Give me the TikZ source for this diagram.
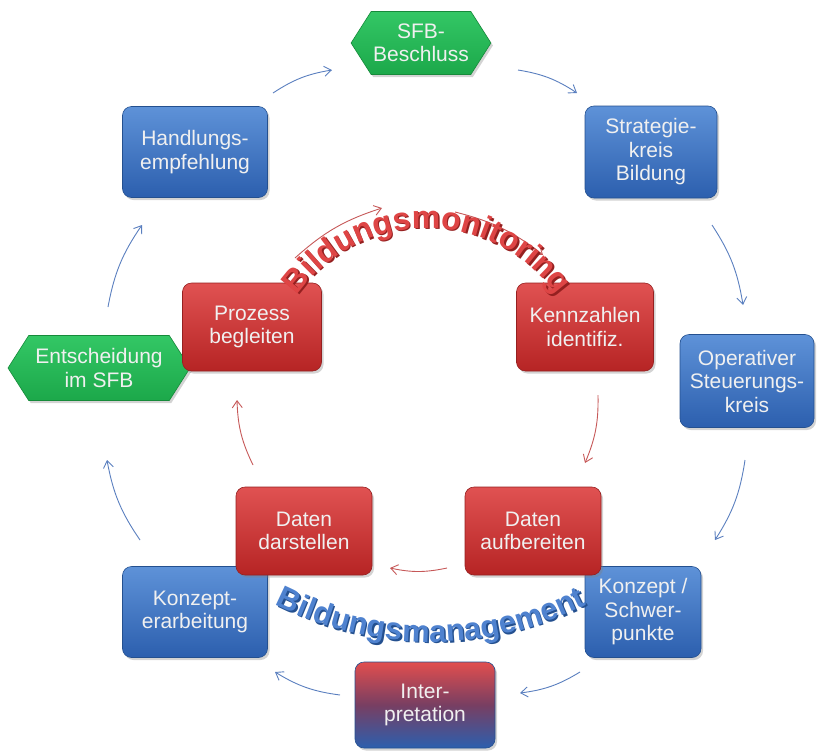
\documentclass[tikz,border=0pt]{standalone}
\usepackage{fontspec}
\setmainfont{Liberation Sans}
\usetikzlibrary{shapes.symbols,shadows,arrows.meta,decorations.text,calc}
\definecolor{blueT}{HTML}{5E92D8}
\definecolor{blueB}{HTML}{2C5FAE}
\definecolor{blueD}{HTML}{24508F}
\definecolor{redT}{HTML}{E05252}
\definecolor{redB}{HTML}{B62424}
\definecolor{redD}{HTML}{952020}
\definecolor{greenT}{HTML}{33C765}
\definecolor{greenB}{HTML}{1CA84A}
\definecolor{greenD}{HTML}{168A3A}
\definecolor{arrowblue}{HTML}{5A7FBF}
\definecolor{arrowred}{HTML}{C65858}
\definecolor{txt}{HTML}{F0F0F0}
\definecolor{monred}{HTML}{DE4545}
\definecolor{mangblue}{HTML}{4F82CF}
\tikzset{
  box/.style={rounded corners=9pt, align=center, text=txt, inner sep=2pt,
    font=\fontsize{21}{23.5}\selectfont,
    drop shadow={opacity=0.35, shadow xshift=2pt, shadow yshift=-2.5pt}},
  bluebox/.style={box, top color=blueT, bottom color=blueB, draw=blueD, line width=0.6pt},
  redbox/.style={box, top color=redT, bottom color=redB, draw=redD, line width=0.6pt},
  greenhex/.style={shape=signal, signal to=east and west, signal pointer angle=115,
    align=center, text=txt, inner sep=2pt, font=\fontsize{21}{23.5}\selectfont,
    top color=greenT, bottom color=greenB, draw=greenD, line width=0.6pt,
    drop shadow={opacity=0.35, shadow xshift=2pt, shadow yshift=-2.5pt}},
  barrow/.style={draw=arrowblue, line width=0.9pt, -{Straight Barb[length=7pt,width=10pt]}},
  rarrow/.style={draw=arrowred, line width=0.9pt, -{Straight Barb[length=7pt,width=10pt]}},
}
\begin{document}
\begin{tikzpicture}[x=1pt,y=-1pt]
\useasboundingbox (0,0) rectangle (817,753);

% outer cycle
\node[greenhex, minimum width=133pt, minimum height=63pt] (sfb) at (421,43) {SFB-\\Beschluss};
\node[bluebox, minimum width=132pt, minimum height=92pt] (strat) at (651,152) {Strategie-\\kreis\\Bildung};
\node[bluebox, minimum width=134pt, minimum height=93pt] (oper) at (747,381) {Operativer\\Steuerungs-\\kreis};
\node[bluebox, minimum width=116pt, minimum height=91pt] (konz) at (643,612) {Konzept /\\Schwer-\\punkte};
\node[box, minimum width=140pt, minimum height=86pt, top color=redT!95!red, bottom color=blueB, middle color=redB!55!blueB, draw=blueD, line width=0.6pt] (interp) at (425,705) {Inter-\\pretation};
\node[bluebox, minimum width=145pt, minimum height=91pt] (kerarb) at (195,612) {Konzept-\\erarbeitung};
\node[greenhex, minimum width=182pt, minimum height=65pt] (ents) at (99,368) {Entscheidung\\im SFB};
\node[bluebox, minimum width=145pt, minimum height=91pt] (hand) at (195,152) {Handlungs-\\empfehlung};

% inner cycle
\node[redbox, minimum width=139pt, minimum height=88pt] (proz) at (252,327) {Prozess\\begleiten};
\node[redbox, minimum width=137pt, minimum height=88pt] (kenn) at (585,327) {Kennzahlen\\identifiz.};
\node[redbox, minimum width=136pt, minimum height=88pt] (aufb) at (533,531) {Daten\\aufbereiten};
\node[redbox, minimum width=136pt, minimum height=88pt] (darst) at (304,531) {Daten\\darstellen};

% arrow end points
\coordinate (a1s) at (273,93);  \coordinate (a1e) at (332,70);
\coordinate (a2s) at (518,70);  \coordinate (a2e) at (577,93);
\coordinate (a3s) at (712,225); \coordinate (a3e) at (743,305);
\coordinate (a4s) at (745,460); \coordinate (a4e) at (715,540);
\coordinate (a5s) at (580,672); \coordinate (a5e) at (520,693);
\coordinate (a6s) at (340,695); \coordinate (a6e) at (275,672);
\coordinate (a7s) at (140,540); \coordinate (a7e) at (107,460);
\coordinate (a8s) at (108,307); \coordinate (a8e) at (142,225);
\coordinate (r1s) at (598,395); \coordinate (r1e) at (585,463);
\coordinate (r2s) at (447,568); \coordinate (r2e) at (390,568);
\coordinate (r3s) at (253,465); \coordinate (r3e) at (237,400);
\coordinate (m1s) at (295,258); \coordinate (m1e) at (382,208);
\coordinate (m2s) at (455,212); \coordinate (m2e) at (543,255);

\foreach \n in {a1,a2,a3,a4,a5,a6,a7,a8}{\draw[barrow] (\n s) to[bend left=12] (\n e);}
\foreach \n in {r1,r2,r3,m1,m2}{\draw[rarrow] (\n s) to[bend left=12] (\n e);}

% arc texts
\coordinate (mc) at (427,387);
\coordinate (mcs) at (428.5,388.5);
\path[decorate, decoration={text along path, text align=center,
  text={|\fontsize{32}{32}\bfseries\selectfont\color{redD}|Bildungsmonitoring}}]
  (mcs) ++(-146:159) arc[start angle=-146, end angle=-34, radius=159];
\path[decorate, decoration={text along path, text align=center,
  text={|\fontsize{32}{32}\bfseries\selectfont\color{monred}|Bildungsmonitoring}}]
  (mc) ++(-146:159) arc[start angle=-146, end angle=-34, radius=159];

\coordinate (gc) at (431,298);
\coordinate (gcs) at (432.5,299.5);
\path[decorate, decoration={text along path, text align=center,
  text={|\fontsize{31}{31}\bfseries\selectfont\color{blueD}|Bildungsmanagement}}]
  (gcs) ++(-243:344) arc[start angle=-243, end angle=-297, radius=344];
\path[decorate, decoration={text along path, text align=center,
  text={|\fontsize{31}{31}\bfseries\selectfont\color{mangblue}|Bildungsmanagement}}]
  (gc) ++(-243:344) arc[start angle=-243, end angle=-297, radius=344];
\end{tikzpicture}
\end{document}
